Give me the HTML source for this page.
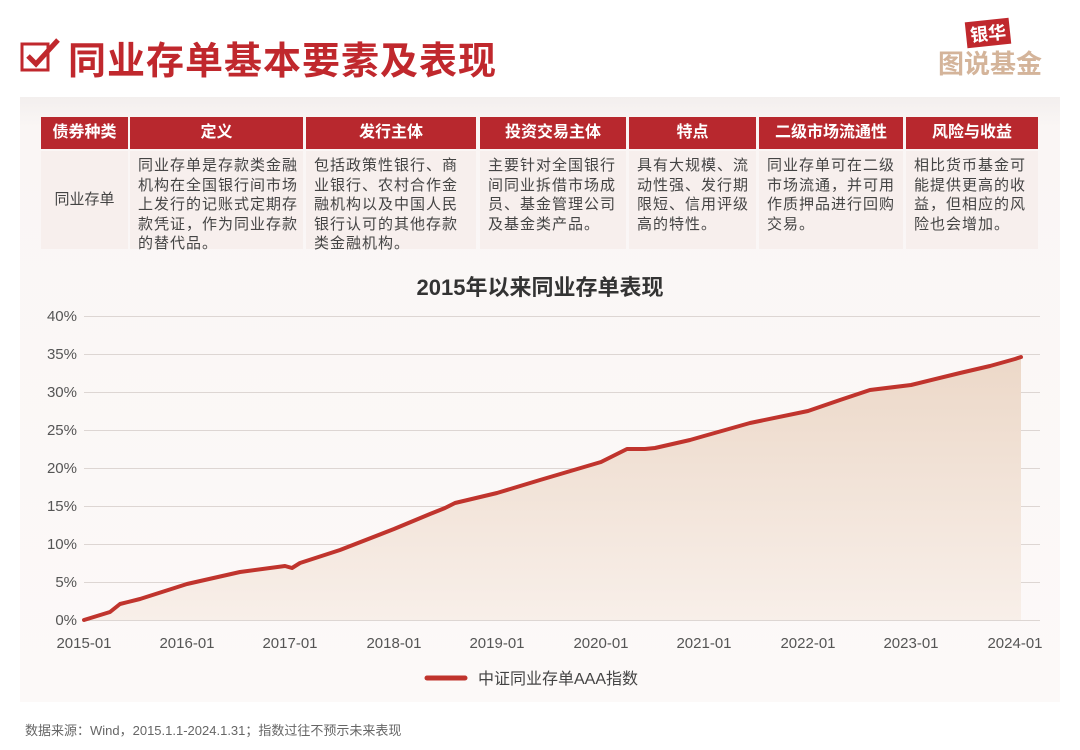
<!DOCTYPE html>
<html><head><meta charset="utf-8"><style>
*{margin:0;padding:0;box-sizing:border-box}
body{width:1080px;height:750px;background:#fff;font-family:"Liberation Sans","Noto Sans CJK SC",sans-serif;position:relative;overflow:hidden;color:#333}
.t{position:absolute;left:68px;top:30px;font-size:38px;font-weight:bold;color:#c0282d;letter-spacing:1px}
.panel{position:absolute;left:20px;top:97px;width:1040px;height:605px;background:linear-gradient(#f3efee,#faf6f5 30px,#fcf9f8)}
.col{position:absolute;top:117px}
.h{height:32px;background:#b8282e;color:#fff;font-size:16px;font-weight:bold;text-align:center;line-height:32px}
.b{margin-top:2px;height:98px;background:#f7efed;font-size:15px;line-height:19.5px;padding:5px 0 0 8px;color:#444;white-space:nowrap;letter-spacing:1px}
.foot{position:absolute;left:25px;top:720px;font-size:13px;color:#666}
</style></head><body>
<svg style="position:absolute;left:20px;top:38px" width="44" height="36"><rect x="2" y="6" width="26" height="26" fill="none" stroke="#c0282d" stroke-width="3"/><path d="M8 18 L16 26 L38 2" fill="none" stroke="#c0282d" stroke-width="5"/></svg>
<div class="t">同业存单基本要素及表现</div>
<div style="position:absolute;left:966px;top:20px;background:#c0282d;color:#fff;font-weight:bold;font-size:18px;padding:0 4px;transform:rotate(-6deg)">银华</div>
<div style="position:absolute;left:938px;top:44px;color:#d4b49a;font-weight:bold;font-size:26px">图说基金</div>
<div class="panel"></div>
<div class="col" style="left:41px;width:87px"><div class="h">债券种类</div><div class="b" style="text-align:center;line-height:98px;padding:0;letter-spacing:0">同业存单</div></div>
<div class="col" style="left:130px;width:173px"><div class="h">定义</div><div class="b">同业存单是存款类金融<br>机构在全国银行间市场<br>上发行的记账式定期存<br>款凭证，作为同业存款<br>的替代品。</div></div>
<div class="col" style="left:306px;width:170px"><div class="h">发行主体</div><div class="b">包括政策性银行、商<br>业银行、农村合作金<br>融机构以及中国人民<br>银行认可的其他存款<br>类金融机构。</div></div>
<div class="col" style="left:480px;width:146px"><div class="h">投资交易主体</div><div class="b">主要针对全国银行<br>间同业拆借市场成<br>员、基金管理公司<br>及基金类产品。</div></div>
<div class="col" style="left:629px;width:127px"><div class="h">特点</div><div class="b">具有大规模、流<br>动性强、发行期<br>限短、信用评级<br>高的特性。</div></div>
<div class="col" style="left:759px;width:144px"><div class="h">二级市场流通性</div><div class="b">同业存单可在二级<br>市场流通，并可用<br>作质押品进行回购<br>交易。</div></div>
<div class="col" style="left:906px;width:132px"><div class="h">风险与收益</div><div class="b">相比货币基金可<br>能提供更高的收<br>益，但相应的风<br>险也会增加。</div></div>
<svg style="position:absolute;left:0;top:0" width="1080" height="750" font-family="Liberation Sans,Noto Sans CJK SC,sans-serif">
<defs><linearGradient id="g" x1="0" y1="0" x2="0" y2="1"><stop offset="0" stop-color="#ecd8c8"/><stop offset="1" stop-color="#f8efe9"/></linearGradient></defs>
<text x="540" y="295" text-anchor="middle" font-size="22" font-weight="bold" fill="#333">2015年以来同业存单表现</text>
<g stroke="#ddd6d3" stroke-width="1">
<line x1="84" x2="1040" y1="316.5" y2="316.5"/><line x1="84" x2="1040" y1="354.5" y2="354.5"/><line x1="84" x2="1040" y1="392.5" y2="392.5"/><line x1="84" x2="1040" y1="430.5" y2="430.5"/><line x1="84" x2="1040" y1="468.5" y2="468.5"/><line x1="84" x2="1040" y1="506.5" y2="506.5"/><line x1="84" x2="1040" y1="544.5" y2="544.5"/><line x1="84" x2="1040" y1="582.5" y2="582.5"/><line x1="84" x2="1040" y1="620.5" y2="620.5"/>
</g>
<g font-size="15" fill="#555" text-anchor="end">
<text x="77" y="321">40%</text><text x="77" y="359">35%</text><text x="77" y="397">30%</text><text x="77" y="435">25%</text><text x="77" y="473">20%</text><text x="77" y="511">15%</text><text x="77" y="549">10%</text><text x="77" y="587">5%</text><text x="77" y="625">0%</text>
</g>
<g font-size="15" fill="#555" text-anchor="middle">
<text x="84" y="648">2015-01</text><text x="187" y="648">2016-01</text><text x="290" y="648">2017-01</text><text x="394" y="648">2018-01</text><text x="497" y="648">2019-01</text><text x="601" y="648">2020-01</text><text x="704" y="648">2021-01</text><text x="808" y="648">2022-01</text><text x="911" y="648">2023-01</text><text x="1015" y="648">2024-01</text>
</g>
<path d="M84 620 L110 612 L120 604 L140 599 L187 584 L240 572 L285 566 L292 568 L300 563 L340 550 L394 529 L430 514 L445 508 L455 503 L497 493 L540 480 L601 462 L627 449 L645 449 L655 448 L690 440 L704 436 L750 423 L808 411 L840 400 L870 390 L911 385 L960 373 L990 366 L1015 359 L1021 357 L1021 620 Z" fill="url(#g)"/>
<path d="M84 620 L110 612 L120 604 L140 599 L187 584 L240 572 L285 566 L292 568 L300 563 L340 550 L394 529 L430 514 L445 508 L455 503 L497 493 L540 480 L601 462 L627 449 L645 449 L655 448 L690 440 L704 436 L750 423 L808 411 L840 400 L870 390 L911 385 L960 373 L990 366 L1015 359 L1021 357" fill="none" stroke="#c0342d" stroke-width="4" stroke-linejoin="round" stroke-linecap="round"/>
<line x1="427" x2="465" y1="678" y2="678" stroke="#c0342d" stroke-width="5" stroke-linecap="round"/>
<text x="478" y="684" font-size="16" fill="#444">中证同业存单AAA指数</text>
</svg>
<div class="foot">数据来源：Wind，2015.1.1-2024.1.31；指数过往不预示未来表现</div>
</body></html>
